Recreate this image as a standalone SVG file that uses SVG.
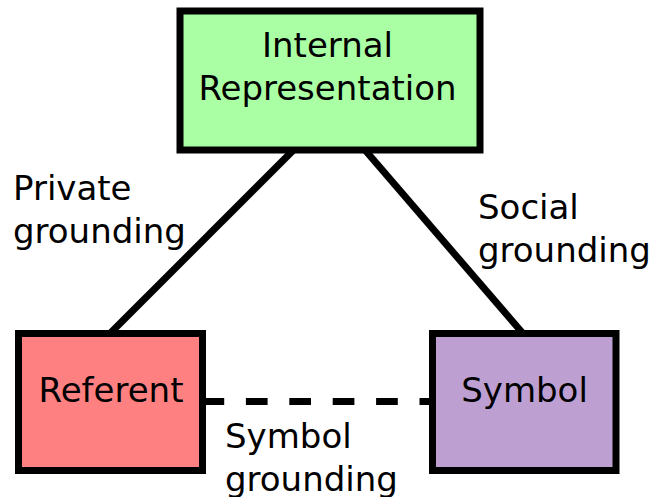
<svg xmlns="http://www.w3.org/2000/svg" width="654" height="497" viewBox="0 0 654 497">
  <style>
    .box { stroke: #000; stroke-width: 7; }
    .edge { stroke: #000; stroke-width: 7; fill: none; }
    .dashed { stroke-dasharray: 21.7 21.7; }
    text { font-family: "DejaVu Sans", Verdana, sans-serif; font-size: 34px; fill: #000; }
    .mid { text-anchor: middle; }
  </style>
  <rect width="654" height="497" fill="#fff"/>

  <!-- connectors -->
  <g id="connectors">
    <line class="edge" x1="293.5" y1="150" x2="110" y2="333.5"/>
    <line class="edge" x1="365" y1="150" x2="523" y2="333.5"/>
    <line class="edge dashed" x1="202.5" y1="401.5" x2="432.5" y2="401.5"/>
  </g>

  <!-- nodes -->
  <g id="internal-representation">
    <rect class="box" x="180" y="11" width="300" height="139" fill="#aaffa4"/>
    <text class="mid" x="327.5" y="57">Internal</text>
    <text class="mid" x="327.5" y="100">Representation</text>
  </g>

  <g id="referent">
    <rect class="box" x="18.5" y="333.5" width="184" height="137" fill="#ff8080"/>
    <text class="mid" x="111" y="402">Referent</text>
  </g>

  <g id="symbol">
    <rect class="box" x="432.5" y="333.5" width="183.5" height="137" fill="#bd9fd2"/>
    <text class="mid" x="524.5" y="402">Symbol</text>
  </g>

  <!-- edge labels -->
  <g id="labels">
    <text x="13" y="200">Private</text>
    <text x="13" y="243">grounding</text>
    <text x="478" y="219">Social</text>
    <text x="478" y="262">grounding</text>
    <text x="225" y="448">Symbol</text>
    <text x="225" y="491">grounding</text>
  </g>
</svg>
